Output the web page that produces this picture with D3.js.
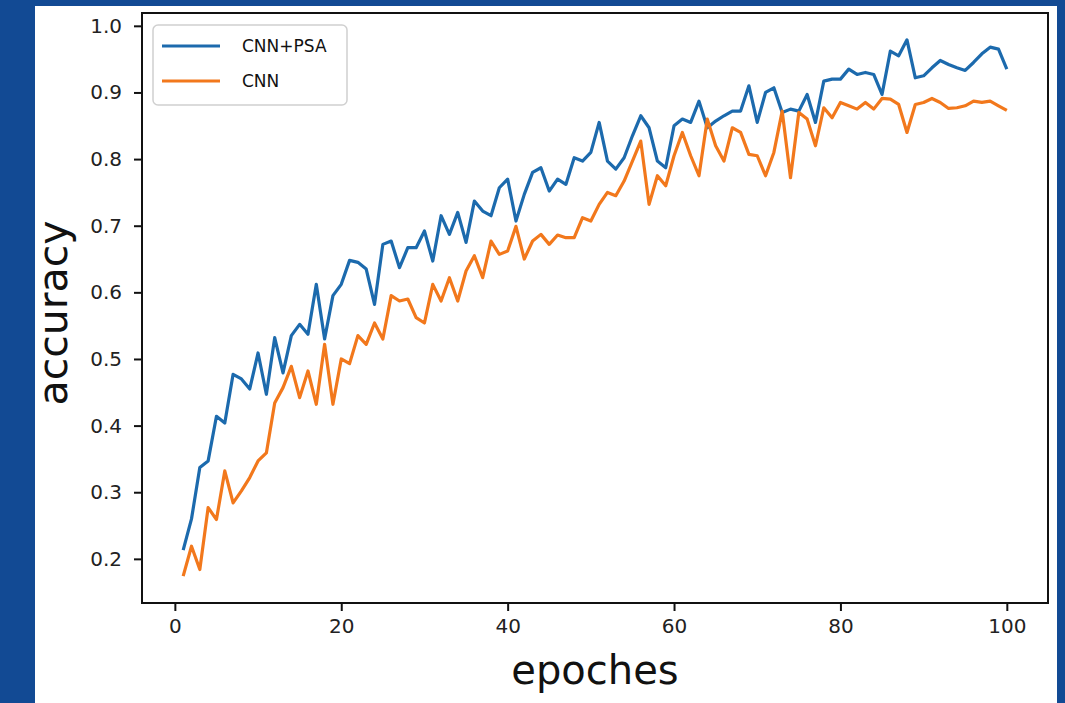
<!DOCTYPE html>
<html>
<head>
<meta charset="utf-8">
<script src="https://cdn.jsdelivr.net/npm/d3@7"></script>
<style>
  html, body { margin: 0; padding: 0; background: #124a94; overflow: hidden; }
</style>
</head>
<body>
<div id="chart"></div>
<script>
/* Data */
const epochs = d3.range(1, 101);

const cnnPsa = [
  0.213, 0.26, 0.337, 0.347, 0.414, 0.404, 0.477, 0.47, 0.455, 0.509,
  0.447, 0.532, 0.479, 0.535, 0.552, 0.537, 0.612, 0.53, 0.595, 0.612,
  0.648, 0.645, 0.635, 0.582, 0.672, 0.677, 0.637, 0.667, 0.667, 0.692,
  0.647, 0.715, 0.687, 0.72, 0.675, 0.737, 0.722, 0.715, 0.757, 0.77,
  0.707, 0.747, 0.78, 0.787, 0.752, 0.77, 0.762, 0.802, 0.797, 0.81,
  0.855, 0.797, 0.785, 0.802, 0.835, 0.865, 0.847, 0.797, 0.787, 0.85,
  0.86, 0.855, 0.887, 0.847, 0.857, 0.865, 0.872, 0.872, 0.91, 0.855,
  0.9, 0.907, 0.87, 0.875, 0.872, 0.897, 0.855, 0.917, 0.92, 0.92,
  0.935, 0.927, 0.93, 0.927, 0.897, 0.962, 0.955, 0.979, 0.922, 0.925,
  0.937, 0.948, 0.942, 0.937, 0.933, 0.945, 0.958, 0.968, 0.965, 0.935
];

const cnn = [
  0.174, 0.219, 0.184, 0.277, 0.259, 0.332, 0.284, 0.302, 0.322, 0.347,
  0.359, 0.434, 0.457, 0.489, 0.442, 0.482, 0.432, 0.522, 0.432, 0.5,
  0.493, 0.535, 0.522, 0.554, 0.53, 0.595, 0.587, 0.59, 0.562, 0.554,
  0.612, 0.587, 0.622, 0.587, 0.632, 0.655, 0.622, 0.677, 0.657, 0.662,
  0.699, 0.65, 0.677, 0.687, 0.672, 0.686, 0.682, 0.682, 0.712, 0.707,
  0.732, 0.75, 0.745, 0.767, 0.797, 0.827, 0.732, 0.775, 0.76, 0.805,
  0.84, 0.805, 0.775, 0.86, 0.82, 0.797, 0.847, 0.84, 0.807, 0.805,
  0.775, 0.81, 0.872, 0.772, 0.87, 0.86, 0.82, 0.877, 0.862, 0.885,
  0.88, 0.875, 0.885, 0.875, 0.891, 0.89, 0.882, 0.84, 0.882, 0.885,
  0.891, 0.885, 0.876, 0.877, 0.88, 0.887, 0.885, 0.887, 0.88, 0.873
];

const series = [
  { name: "CNN+PSA", values: cnnPsa, color: "#1c6aad" },
  { name: "CNN", values: cnn, color: "#f2781c" }
];

const xTicks = [0, 20, 40, 60, 80, 100];
const yTicks = [0.2, 0.3, 0.4, 0.5, 0.6, 0.7, 0.8, 0.9, 1.0];

/* Chart */
const width = 1065, height = 703;
const plot = { left: 142, top: 13, right: 1048, bottom: 603 };

const svg = d3.select("#chart").append("svg")
  .attr("width", width)
  .attr("height", height)
  .style("display", "block")
  .style("font-family", "DejaVu Sans, sans-serif");

// blue page and white card
svg.append("rect").attr("width", width).attr("height", height).attr("fill", "#124a94");
svg.append("rect")
  .attr("x", 35).attr("y", 6)
  .attr("width", 1022).attr("height", height - 6)
  .attr("fill", "#fff");

// matplotlib-style 5% margins around the data
const allY = cnnPsa.concat(cnn);
const yMin = d3.min(allY), yMax = d3.max(allY);
const yPad = (yMax - yMin) * 0.05;
const xPad = (100 - 1) * 0.05;

const x = d3.scaleLinear()
  .domain([1 - xPad, 100 + xPad])
  .range([plot.left, plot.right]);

const y = d3.scaleLinear()
  .domain([yMin - yPad, yMax + yPad])
  .range([plot.bottom, plot.top]);

const xAxis = svg.append("g")
  .attr("transform", `translate(0,${plot.bottom})`)
  .call(d3.axisBottom(x).tickValues(xTicks).tickSize(8).tickPadding(8).tickFormat(d3.format("d")));

const yAxis = svg.append("g")
  .attr("transform", `translate(${plot.left},0)`)
  .call(d3.axisLeft(y).tickValues(yTicks).tickSize(8).tickPadding(12).tickFormat(d3.format(".1f")));

[xAxis, yAxis].forEach(g => {
  g.select(".domain").remove();
  g.selectAll(".tick line").attr("stroke", "#111").attr("stroke-width", 2);
  g.selectAll(".tick text")
    .attr("fill", "#222")
    .attr("font-size", "20px")
    .attr("font-family", "DejaVu Sans, sans-serif");
});

const line = d3.line()
  .x((d, i) => x(epochs[i]))
  .y(d => y(d));

svg.selectAll(".series")
  .data(series)
  .enter()
  .append("path")
  .attr("class", "series")
  .attr("d", d => line(d.values))
  .attr("fill", "none")
  .attr("stroke", d => d.color)
  .attr("stroke-width", 3.2)
  .attr("stroke-linejoin", "round");

// frame
svg.append("rect")
  .attr("x", plot.left)
  .attr("y", plot.top)
  .attr("width", plot.right - plot.left)
  .attr("height", plot.bottom - plot.top)
  .attr("fill", "none")
  .attr("stroke", "#111")
  .attr("stroke-width", 2);

/* Axis labels */
svg.append("text")
  .attr("x", (plot.left + plot.right) / 2)
  .attr("y", 684)
  .attr("text-anchor", "middle")
  .attr("font-size", "40px")
  .attr("fill", "#111")
  .text("epoches");

svg.append("text")
  .attr("transform", `translate(67,${(plot.top + plot.bottom) / 2 + 5}) rotate(-90)`)
  .attr("text-anchor", "middle")
  .attr("font-size", "41px")
  .attr("fill", "#111")
  .text("accuracy");

/* Legend */
const legend = svg.append("g").attr("transform", `translate(${plot.left + 11},${plot.top + 12})`);
legend.append("rect")
  .attr("width", 194)
  .attr("height", 80)
  .attr("rx", 5)
  .attr("fill", "#fff")
  .attr("stroke", "#d0d0d0")
  .attr("stroke-width", 1.5);

series.forEach((s, i) => {
  const g = legend.append("g").attr("transform", `translate(0,${21 + i * 35})`);
  g.append("line")
    .attr("x1", 9)
    .attr("x2", 67)
    .attr("stroke", s.color)
    .attr("stroke-width", 3.2);
  g.append("text")
    .attr("x", 89)
    .attr("y", 6)
    .attr("font-size", "17px")
    .attr("fill", "#111")
    .text(s.name);
});
</script>
</body>
</html>
